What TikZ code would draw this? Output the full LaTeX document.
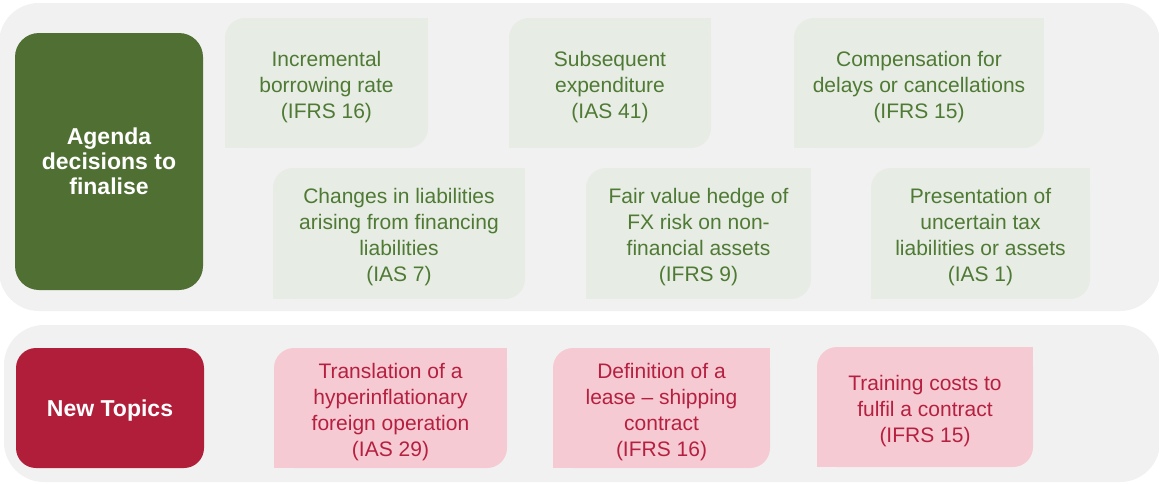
\documentclass[tikz,border=0pt]{standalone}
\usepackage{fontspec}
\setmainfont{Liberation Sans}
\definecolor{panelgray}{HTML}{F1F1F1}
\definecolor{leafgreen}{HTML}{507033}
\definecolor{greentext}{HTML}{4F7A33}
\definecolor{greentile}{HTML}{E7ECE5}
\definecolor{berry}{HTML}{B11E3A}
\definecolor{redtext}{HTML}{B52040}
\definecolor{pinktile}{HTML}{F6CAD3}

\tikzset{
  panel/.style={fill=panelgray, rounded corners=40pt},
  headbox/.style={fill=#1, rounded corners=24pt, text=white, align=center,
    inner sep=0pt, font=\fontsize{23}{25}\selectfont\bfseries},
  tiletext/.style={align=center, inner sep=0pt,
    font=\fontsize{21}{26}\selectfont},
  greentilebox/.style={tiletext, text=greentext},
  redtilebox/.style={tiletext, text=redtext},
}

% \tile{name}{x1}{y1}{x2}{y2}{style}{fill colour}{text}
% A box with round top-left and bottom-right corners, square elsewhere,
% and its text set a little below the middle.
\newcommand\tile[8]{%
  \fill[#7, rounded corners=20pt] (#2,#3) rectangle (#4,#5);
  \fill[#7] (#4,#3) rectangle ++(-20,20);
  \fill[#7] (#2,#5) rectangle ++(20,-20);
  \node[#6] (#1) at ({((#2)+(#4))/2},{((#3)+(#5))/2+4}) {#8};
}

\begin{document}
\begin{tikzpicture}[x=1pt,y=-1pt]
  \useasboundingbox (0,0) rectangle (1159,483);
  \fill[white] (0,0) rectangle (1159,483);

  % grey panels
  \fill[panel] (-1,3) rectangle (1160,311);
  \fill[panel] (4,325) rectangle (1160,482);

  % section headings
  \node[headbox=leafgreen, minimum width=188, minimum height=257]
    (agenda) at (109,161.5) {Agenda\\decisions to\\finalise};
  \node[headbox=berry, rounded corners=20pt, minimum width=188, minimum height=120]
    (newtopics) at (110,408) {\raisebox{-3pt}[\height][\depth]{New Topics}};

  % agenda decisions, first row
  \tile{ibr}{225}{18}{428}{148}{greentilebox}{greentile}
    {Incremental\\borrowing rate\\(IFRS 16)}
  \tile{subexp}{509}{18}{711}{148}{greentilebox}{greentile}
    {Subsequent\\expenditure\\(IAS 41)}
  \tile{comp}{794}{18}{1044}{148}{greentilebox}{greentile}
    {Compensation for\\delays or cancellations\\(IFRS 15)}

  % agenda decisions, second row
  \tile{liab}{273}{168}{525}{299}{greentilebox}{greentile}
    {Changes in liabilities\\arising from financing\\liabilities\\(IAS 7)}
  \tile{hedge}{586}{168}{811}{299}{greentilebox}{greentile}
    {Fair value hedge of\\FX risk on non-\\financial assets\\(IFRS 9)}
  \tile{tax}{871}{168}{1090}{299}{greentilebox}{greentile}
    {Presentation of\\uncertain tax\\liabilities or assets\\(IAS 1)}

  % new topics
  \tile{hyper}{274}{348}{507}{468}{redtilebox}{pinktile}
    {Translation of a\\hyperinflationary\\foreign operation\\(IAS 29)}
  \tile{lease}{553}{348}{770}{468}{redtilebox}{pinktile}
    {Definition of a\\lease -- shipping\\contract\\(IFRS 16)}
  \tile{train}{817}{347}{1033}{467}{redtilebox}{pinktile}
    {Training costs to\\fulfil a contract\\(IFRS 15)}
\end{tikzpicture}
\end{document}
